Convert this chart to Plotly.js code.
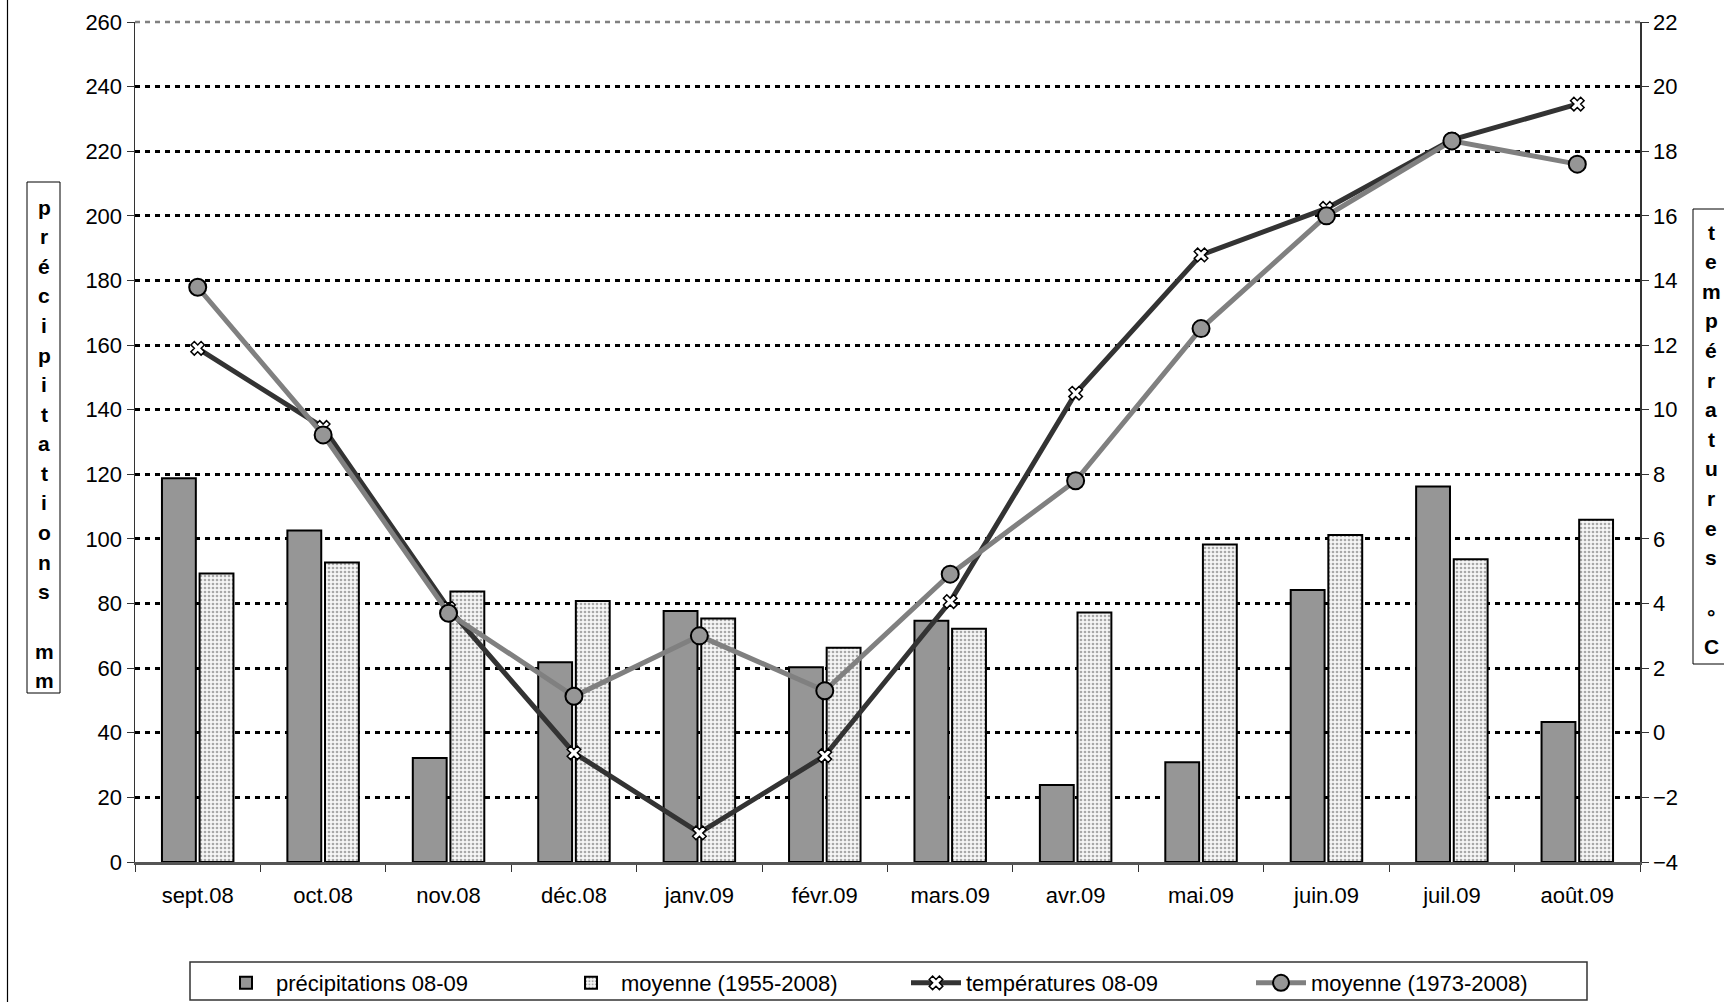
<!DOCTYPE html>
<html>
<head>
<meta charset="utf-8">
<script src="https://cdn.plot.ly/plotly-3.0.1.min.js"></script>
<style>html,body{margin:0;padding:0;background:#fff;}#chart{width:1724px;height:1002px;}</style>
</head>
<body>
<div id="chart"></div>
<script>
const months = ['sept.08','oct.08','nov.08','déc.08','janv.09','févr.09','mars.09','avr.09','mai.09','juin.09','juil.09','août.09'];
const precip0809 = [118.8, 102.6, 32.2, 61.8, 77.7, 60.3, 74.7, 23.8, 30.9, 84.2, 116.2, 43.3];
const precipMoy = [89.3, 92.7, 83.7, 80.8, 75.4, 66.3, 72.2, 77.2, 98.3, 101.2, 93.7, 105.9];
const temp0809 = [11.9, 9.45, 3.85, -0.62, -3.1, -0.71, 4.06, 10.51, 14.79, 16.23, 18.35, 19.46];
const tempMoy = [13.79, 9.22, 3.7, 1.13, 3.0, 1.3, 4.91, 7.8, 12.51, 16.0, 18.32, 17.6];
const seriesNames = ['précipitations 08-09', 'moyenne (1955-2008)', 'températures 08-09', 'moyenne (1973-2008)'];
const leftTitle = ['p','r','é','c','i','p','i','t','a','t','i','o','n','s','','m','m'];
const rightTitle = ['t','e','m','p','é','r','a','t','u','r','e','s','','°','C'];

const W = 1724, H = 1002, L = 135, R = 1640, T = 22, B = 862;
const px = x => (x - L) / (R - L);
const py = y => (B - y) / (B - T);
const FONT = 'Liberation Sans, Arial, sans-serif';
const FS = 22;

const traces = [
  {type:'bar', name:seriesNames[0], x:months, y:precip0809,
   marker:{color:'#969696', line:{color:'#000', width:2}}},
  {type:'bar', name:seriesNames[1], x:months, y:precipMoy,
   marker:{color:'#f2f2f2', line:{color:'#000', width:2},
           pattern:{shape:'.', fgcolor:'#a8a8a8', bgcolor:'#f6f6f6', size:4, solidity:0.35}}},
  {type:'scatter', mode:'lines+markers', name:seriesNames[2], x:months, y:temp0809, yaxis:'y2',
   line:{color:'#333333', width:5},
   marker:{symbol:'x', size:12, color:'#ffffff', line:{color:'#000', width:1.5}}},
  {type:'scatter', mode:'lines+markers', name:seriesNames[3], x:months, y:tempMoy, yaxis:'y2',
   line:{color:'#808080', width:5},
   marker:{symbol:'circle', size:17, color:'#969696', line:{color:'#000', width:2}}}
];

const annotations = [];
leftTitle.forEach((c, i) => {
  if (!c) return;
  annotations.push({xref:'paper', yref:'paper', x:px(44), y:py(207 + i*29.6), text:c, showarrow:false,
    xanchor:'center', yanchor:'middle', font:{family:FONT, size:21, color:'#000', weight:'bold'}});
});
rightTitle.forEach((c, i) => {
  if (!c) return;
  annotations.push({xref:'paper', yref:'paper', x:px(1711), y:py(232 + i*29.6), text:c, showarrow:false,
    xanchor:'center', yanchor:'middle', font:{family:FONT, size:21, color:'#000', weight:'bold'}});
});

const shapes = [
  {type:'rect', xref:'paper', yref:'paper', x0:px(27), x1:px(60), y0:py(182), y1:py(693), line:{color:'#000', width:1}, fillcolor:'rgba(0,0,0,0)'},
  {type:'rect', xref:'paper', yref:'paper', x0:px(1693), x1:px(1740), y0:py(209), y1:py(664), line:{color:'#000', width:1}, fillcolor:'rgba(0,0,0,0)'},
  {type:'line', xref:'paper', yref:'paper', x0:px(7.5), x1:px(7.5), y0:py(-10), y1:py(1012), line:{color:'#000', width:1.2}},
  {type:'rect', xref:'paper', yref:'paper', x0:px(190), x1:px(1587), y0:py(962), y1:py(1000), line:{color:'#333', width:1.5}, fillcolor:'rgba(0,0,0,0)'},
  {type:'line', xref:'paper', yref:'paper', x0:0, x1:1, y0:1, y1:1, layer:'below', line:{color:'#808080', width:2.5, dash:'5px,5px'}}
];

const layout = {
  width:W, height:H,
  margin:{l:L, r:W-R, t:T, b:H-B, pad:0, autoexpand:false},
  paper_bgcolor:'#fff', plot_bgcolor:'#fff',
  font:{family:FONT, size:FS, color:'#000'},
  barmode:'group', bargap:0.4, bargroupgap:0.1,
  showlegend:true,
  xaxis:{type:'category', range:[-0.5, months.length - 0.5], tickson:'boundaries', ticks:'outside', ticklen:7, tickcolor:'#333', tickwidth:1,
         showline:true, linecolor:'#555', linewidth:2.5, showgrid:false, zeroline:false,
         tickfont:{family:FONT, size:FS}, ticklabelstandoff:12},
  yaxis:{range:[0,260], tick0:0, dtick:20, ticks:'outside', ticklen:7, tickcolor:'#333', tickwidth:1,
         showline:true, linecolor:'#333', linewidth:1.5, showgrid:true, gridcolor:'#000', gridwidth:3,
         griddash:'5px,5px', zeroline:false, tickfont:{family:FONT, size:FS}},
  yaxis2:{range:[-4,22], tick0:-4, dtick:2, overlaying:'y', side:'right', ticks:'outside', ticklen:7,
          tickcolor:'#333', tickwidth:1, showline:true, linecolor:'#333', linewidth:1.5, showgrid:false,
          zeroline:false, tickfont:{family:FONT, size:FS}},
  legend:{orientation:'h', x:px(216), xanchor:'left', y:py(962), yanchor:'top',
          bordercolor:'rgba(0,0,0,0)', borderwidth:0, bgcolor:'rgba(0,0,0,0)', font:{family:FONT, size:FS},
          entrywidth:280, itemwidth:50, traceorder:'normal'},
  annotations:annotations,
  shapes:shapes
};

Plotly.newPlot('chart', traces, layout, {displayModeBar:false, staticPlot:true});
</script>
</body>
</html>
